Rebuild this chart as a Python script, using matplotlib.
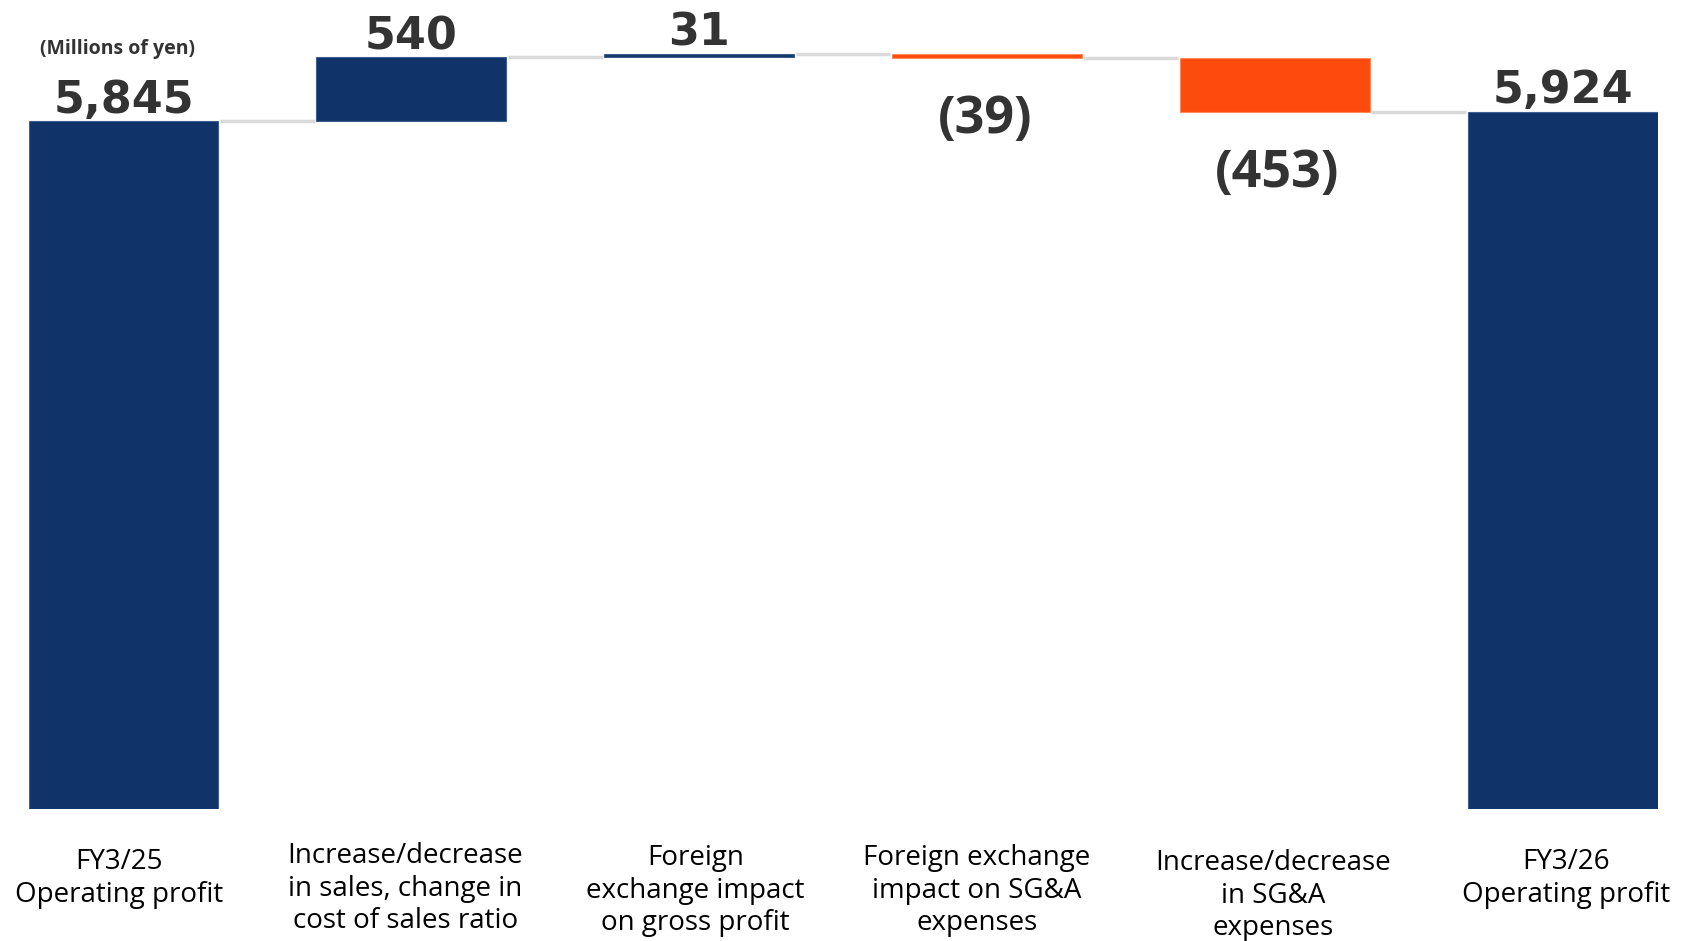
import matplotlib
matplotlib.use("Agg")
import matplotlib.pyplot as plt
from matplotlib.transforms import blended_transform_factory

# ---- data ----
categories = [
    "FY3/25\nOperating profit",
    "Increase/decrease\nin sales, change in\ncost of sales ratio",
    "Foreign\nexchange impact\non gross profit",
    "Foreign exchange\nimpact on SG&A\nexpenses",
    "Increase/decrease\nin SG&A\nexpenses",
    "FY3/26\nOperating profit",
]
start_value = 5845
changes = [540, 31, -39, -453]
end_value = 5924
unit_note = "(Millions of yen)"

NAVY = "#10346a"
ORANGE = "#fd4a0d"
W, H = 1682, 941

fig = plt.figure(figsize=(W / 100, H / 100), dpi=100)
px_per_unit = 0.1177
ax = fig.add_axes([28.5 / W, (H - 809) / H, 1629 / W, 809 / H])
ax.set_xlim(-0.33, 5.33)
ax.set_ylim(0, 809 / px_per_unit)
ax.axis("off")

bw = 0.66
# bars
bottoms, heights, colors = [], [], []
bottoms.append(0); heights.append(start_value); colors.append(NAVY)
running = start_value
for c in changes:
    if c >= 0:
        bottoms.append(running); heights.append(c); colors.append(NAVY)
    else:
        bottoms.append(running + c); heights.append(-c); colors.append(ORANGE)
    running += c
bottoms.append(0); heights.append(end_value); colors.append(NAVY)

edge = ["#3d5f92" if c == NAVY else "#ff8a5c" for c in colors]
ax.bar(range(len(heights)), heights, bottom=bottoms, width=bw,
       color=colors, edgecolor=edge, linewidth=0.8, zorder=3)

# connectors
levels = [start_value]
r = start_value
for c in changes:
    r += c
    levels.append(r)
for i, lv in enumerate(levels):
    ax.plot([i + bw / 2 + 0.005, i + 1 - bw / 2 - 0.005], [lv, lv],
            color="#d9d9d9", lw=2.5, solid_capstyle="butt", zorder=2)

# value labels
values = [start_value] + changes + [end_value]
neg_dx = {3: -0.005, 4: 0.01}
for i, v in enumerate(values):
    top = bottoms[i] + heights[i]
    if v >= 0:
        ax.annotate(f"{v:,}", xy=(i, top), xytext=(0, 6), textcoords="offset points",
                    ha="center", va="baseline", fontsize=32, fontweight="bold",
                    family="DejaVu Sans", color="#333333", annotation_clip=False)
    else:
        ax.annotate(f"({-v:,})", xy=(i + neg_dx.get(i, 0), bottoms[i]), xytext=(0, -54),
                    textcoords="offset points", ha="center", va="baseline",
                    fontsize=37.5, fontweight="bold", family="Open Sans",
                    color="#333333", annotation_clip=False)

# unit note
fig.text(117 / W, 1 - 49 / H, unit_note, ha="center", va="center",
         fontsize=14, fontweight="bold", family="Open Sans", color="#333333")

# category labels
trans = blended_transform_factory(ax.transData, fig.transFigure)
label_top = [861, 855, 857, 857, 862, 861]
label_dx = [-0.015, -0.02, -0.012, -0.035, -0.005, 0.012]
for i, lab in enumerate(categories):
    ax.text(i + label_dx[i], 1 - (label_top[i] - 13) / H, lab, transform=trans,
            ha="center", va="top", fontsize=20, family="Open Sans",
            color="#000000", linespacing=1.22, clip_on=False)

fig.savefig("out.png", dpi=100)
